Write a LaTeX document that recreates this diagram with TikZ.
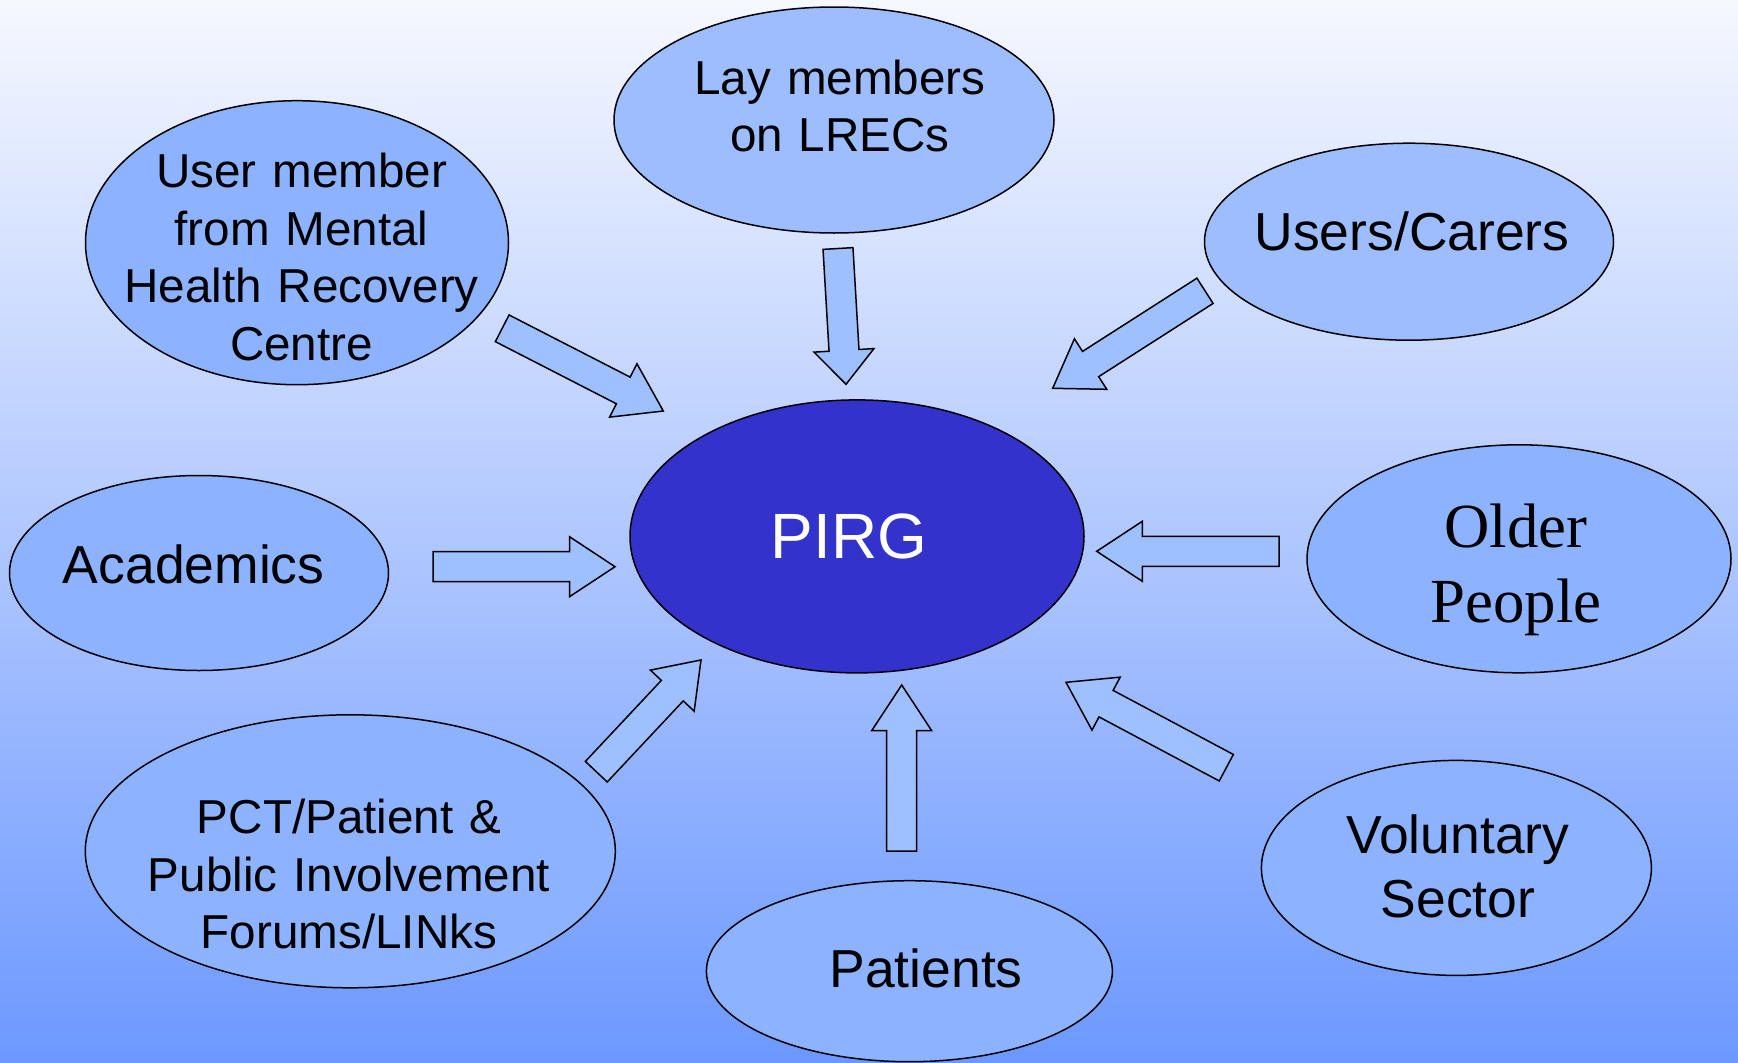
\documentclass[tikz,border=0pt]{standalone}
\usepackage{fontspec}
\setmainfont{Liberation Sans}
\newfontfamily\timesfont{Liberation Serif}
\usetikzlibrary{shapes.geometric,calc}
\definecolor{bgtop}{RGB}{246,248,255}
\definecolor{bgbot}{RGB}{108,152,255}
\definecolor{bubA}{RGB}{157,189,255}
\definecolor{bubB}{RGB}{141,178,255}
\definecolor{arrowfill}{RGB}{158,192,255}
\definecolor{pirgfill}{RGB}{51,51,204}
\newcommand\blockarrow[4]{%
  \coordinate (#1-b) at ($(#3)!#4!(#2)$);
  \draw[arrowshape] ($(#2)!15pt!90:(#3)$) -- ($(#1-b)!15pt!-90:(#2)$) -- ($(#1-b)!30pt!-90:(#2)$) -- (#3) -- ($(#1-b)!30pt!90:(#2)$) -- ($(#1-b)!15pt!90:(#2)$) -- ($(#2)!15pt!-90:(#3)$) -- cycle;}
\begin{document}
\begin{tikzpicture}[x=1pt,y=-1pt,
  bub/.style={ellipse, draw=black, line width=1.5pt, inner sep=0pt, fill=bubB},
  arrowshape/.style={draw=black, line width=1.5pt, fill=arrowfill, line join=miter},
  lbl/.style={anchor=base, inner sep=0pt, align=center, text width=560pt},
  fsmall/.style={font=\fontsize{47.6pt}{57.6pt}\selectfont},
  fbig/.style={font=\fontsize{53.5pt}{64pt}\selectfont}]
\useasboundingbox (0,0) rectangle (1738,1063);
\shade[top color=bgtop, bottom color=bgbot] (0,0) rectangle (1738,1063);

% ellipses
\node[bub, fill=bubA, minimum width=440pt, minimum height=226pt] (lay) at (834,120) {};
\node[bub, minimum width=423pt, minimum height=284pt] (user) at (297,242.7) {};
\node[bub, fill=bubA, minimum width=409pt, minimum height=197pt] (carers) at (1409,241.7) {};
\node[bub, minimum width=379pt, minimum height=195pt] (acad) at (199,573) {};
\node[bub, fill=pirgfill, minimum width=454pt, minimum height=273pt] (pirg) at (857,536.4) {};
\node[bub, minimum width=424pt, minimum height=228pt] (older) at (1519,558.8) {};
\node[bub, minimum width=530pt, minimum height=273pt] (pct) at (350.3,851.3) {};
\node[bub, minimum width=406pt, minimum height=181pt] (patients) at (909.4,971.2) {};
\node[bub, minimum width=390pt, minimum height=215pt] (vol) at (1456.4,867.9) {};

% arrow end points
\coordinate (a1t) at (502.2,328.3);  \coordinate (a1h) at (663.3,411);
\coordinate (a2t) at (838,248.5);    \coordinate (a2h) at (846,384.3);
\coordinate (a3t) at (1205,290.8);   \coordinate (a3h) at (1052.7,388.3);
\coordinate (a4t) at (433,566.7);    \coordinate (a4h) at (615,566.7);
\coordinate (a5t) at (1279,551.3);   \coordinate (a5h) at (1096.7,551.3);
\coordinate (a6t) at (596.3,771.7);  \coordinate (a6h) at (701,660);
\coordinate (a7t) at (901.7,851);    \coordinate (a7h) at (901.7,685);
\coordinate (a8t) at (1226.3,767.7); \coordinate (a8h) at (1066,682.3);

\blockarrow{a1}{a1t}{a1h}{45pt}
\blockarrow{a2}{a2t}{a2h}{34pt}
\blockarrow{a3}{a3t}{a3h}{45pt}
\blockarrow{a4}{a4t}{a4h}{45.5pt}
\blockarrow{a5}{a5t}{a5h}{45.6pt}
\blockarrow{a6}{a6t}{a6h}{42pt}
\blockarrow{a7}{a7t}{a7h}{45.7pt}
\blockarrow{a8}{a8t}{a8h}{45.4pt}

% texts
\node[lbl, fsmall] (lay-t) at (840,94.3) {Lay members\\on LRECs};
\node[lbl, fsmall] (user-t) at (301.5,187.5) {User member\\from Mental\\Health Recovery\\Centre};
\node[lbl, fbig] (carers-t) at (1412,250) {Users/Carers};
\node[lbl, fbig] (acad-t) at (193.7,583.3) {Academics};
\node[lbl, text=white, font=\fontsize{64pt}{76pt}\selectfont] (pirg-t) at (849,558.6) {PIRG};
\node[lbl, font=\timesfont\fontsize{62.8pt}{75.4pt}\selectfont] (older-t) at (1516,547.3) {Older\\People};
\node[lbl, fsmall] (pct-t) at (349,833.5) {PCT/Patient \&\\Public Involvement\\Forums/LINks};
\node[lbl, fbig] (vol-t) at (1458,853.5) {Voluntary\\Sector};
\node[lbl, fbig] (patients-t) at (926,987.7) {Patients};
\end{tikzpicture}
\end{document}
